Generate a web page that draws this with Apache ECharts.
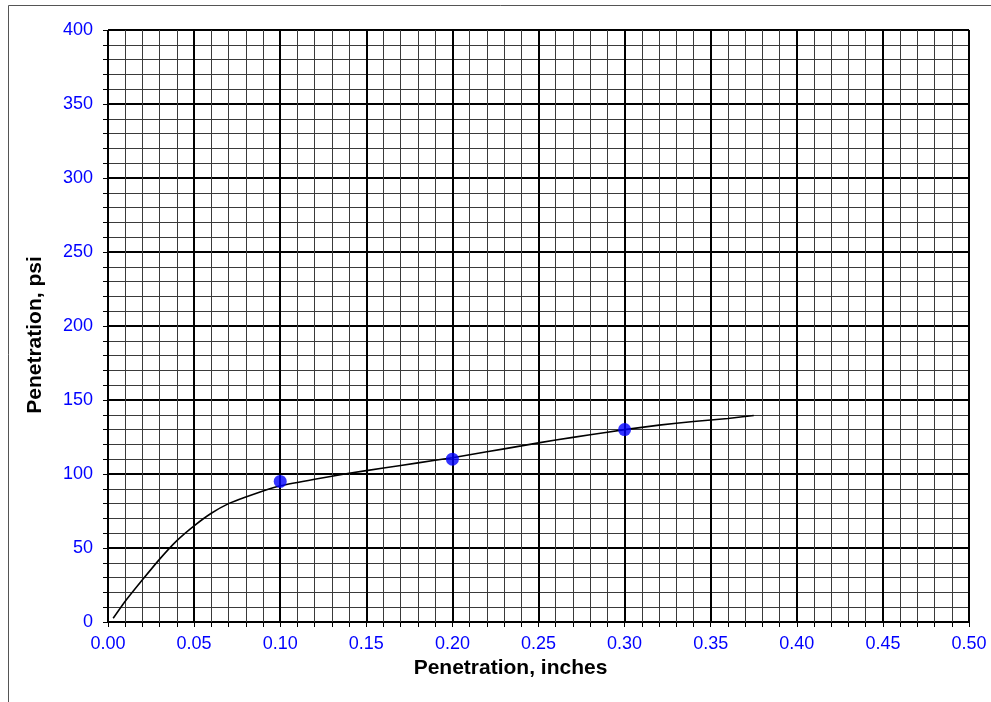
<!DOCTYPE html>
<html>
<head>
    <meta charset="utf-8">
    <title>Penetration</title>
    <script src="https://cdn.jsdelivr.net/npm/echarts@6/dist/echarts.min.js"></script>
    <style>
        html, body { margin: 0; padding: 0; background: #fff; }
        #main { width: 991px; height: 702px; }
    </style>
</head>
<body>
    <div id="main"></div>
    <script type="text/javascript">
        // fitted curve
        var curveX = [0.003, 0.01, 0.02, 0.03, 0.04, 0.05, 0.06, 0.07, 0.08, 0.09, 0.10, 0.12, 0.14, 0.16, 0.18, 0.20, 0.22, 0.24, 0.26, 0.28, 0.30, 0.32, 0.34, 0.36, 0.375];
        var curveY = [2.5, 14, 28.5, 42.5, 55, 65, 73.5, 80, 84.5, 88.5, 92, 96.5, 100.5, 104, 107.5, 111, 115, 119, 123, 126.5, 130, 133, 135.5, 137.5, 139.5];
        // measured points
        var pointX = [0.10, 0.20, 0.30];
        var pointY = [95, 110, 130];

        var font = 'Liberation Sans, Arial, sans-serif';

        var curve = [];
        for (var i = 0; i < curveX.length; i++) {
            curve.push([curveX[i], curveY[i]]);
        }
        var points = [];
        for (var j = 0; j < pointX.length; j++) {
            points.push([pointX[j], pointY[j]]);
        }

        var myChart = echarts.init(document.getElementById('main'));

        function axisCommon() {
            return {
                type: 'value',
                axisLine: { show: true, onZero: false, lineStyle: { color: '#000', width: 1 } },
                axisTick: { show: true, inside: false, length: 5, lineStyle: { color: '#000' } },
                minorTick: { show: true, splitNumber: 5, length: 5, lineStyle: { color: '#000' } },
                splitLine: { show: true, lineStyle: { color: '#000', width: 2 } },
                minorSplitLine: { show: true, lineStyle: { color: '#3a3a3a', width: 1 } },
                nameLocation: 'middle'
            };
        }

        var xAxis = axisCommon();
        xAxis.min = 0;
        xAxis.max = 0.5;
        xAxis.interval = 0.05;
        xAxis.name = 'Penetration, inches';
        xAxis.nameGap = 29;
        xAxis.nameTextStyle = { fontFamily: font, fontSize: 21, fontWeight: 'bold', color: '#000', padding: [0, 56, 0, 0] };
        xAxis.axisLabel = {
            color: '#0000ff', fontFamily: font, fontSize: 18, margin: 13,
            formatter: function (v) { return v.toFixed(2); }
        };

        var yAxis = axisCommon();
        yAxis.min = 0;
        yAxis.max = 400;
        yAxis.interval = 50;
        yAxis.name = 'Penetration, psi';
        yAxis.nameGap = 62;
        yAxis.nameTextStyle = { fontFamily: font, fontSize: 21, fontWeight: 'bold', color: '#000', padding: [0, 18, 0, 0] };
        yAxis.axisLabel = { color: '#0000ff', fontFamily: font, fontSize: 18, margin: 15 };

        var option = {
            animation: false,
            backgroundColor: '#fff',
            grid: { left: 108, right: 22, top: 30, bottom: 80, containLabel: false },
            graphic: [{
                type: 'rect',
                shape: { x: 8.5, y: 5.5, width: 1200, height: 1200 },
                style: { fill: 'none', stroke: '#555', lineWidth: 1 },
                silent: true,
                z: -10
            }],
            xAxis: xAxis,
            yAxis: yAxis,
            series: [
                {
                    name: 'curve',
                    type: 'line',
                    data: curve,
                    smooth: 0.15,
                    showSymbol: false,
                    lineStyle: { color: '#000', width: 1.6 },
                    z: 3
                },
                {
                    name: 'points',
                    type: 'scatter',
                    data: points,
                    symbol: 'circle',
                    symbolSize: 13,
                    itemStyle: { color: '#0000ff' },
                    z: 4
                }
            ]
        };

        myChart.setOption(option);
    </script>
</body>
</html>
